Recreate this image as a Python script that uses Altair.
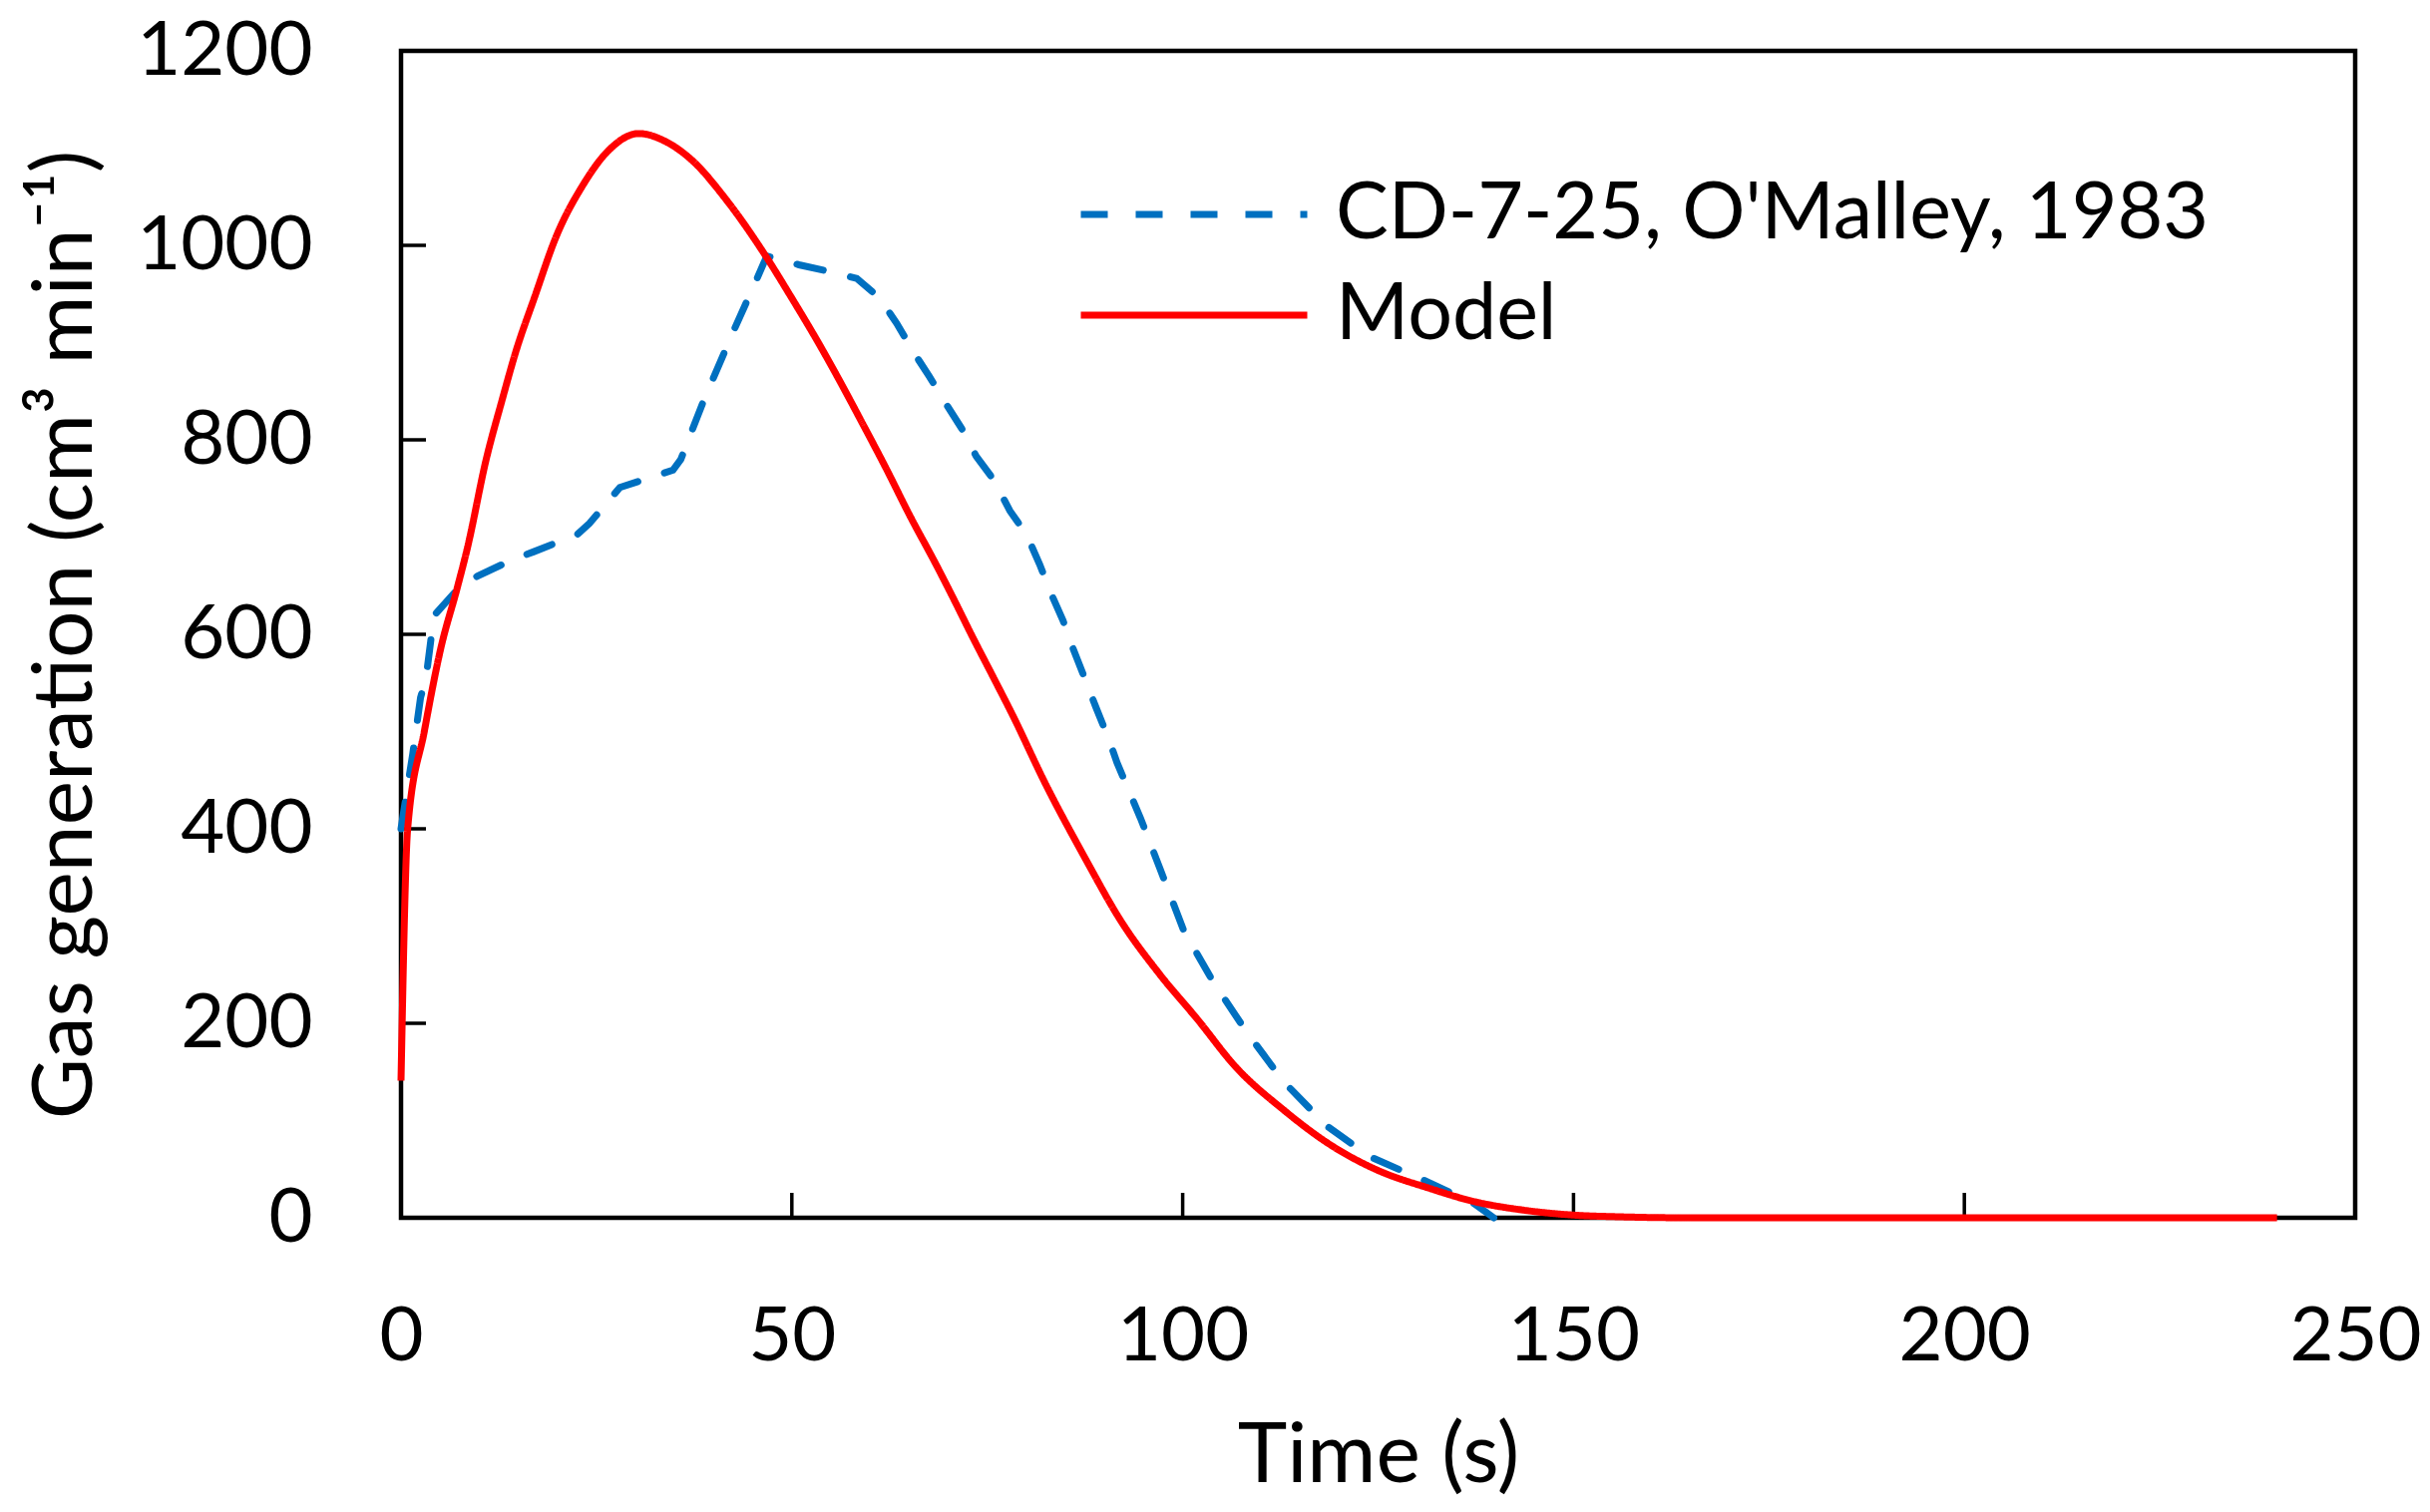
import altair as alt
import pandas as pd

series_names = ["CD-7-25, O'Malley, 1983", "Model"]
series_colors = ["#0070C0", "#FF0000"]

# Experimental data (CD-7-25, O'Malley, 1983)
exp_time = [0, 1.5, 2.5, 3.2, 3.8, 4.2, 7.2, 9.8, 13.8, 17.0, 22.6, 24.1, 28.0, 34.8,
            35.8, 38.7, 42.6, 45.5, 46.8, 50.9, 54.9, 58.3, 61.2, 63.4, 65.5, 67.6,
            69.8, 71.7, 73.6, 75.9, 77.9, 80.0, 81.7, 83.0, 84.7, 85.9, 87.6, 88.9,
            90.6, 91.6, 94.6, 97.1, 100.1, 103.8, 108.1, 112.9, 118.5, 123.9, 131.3,
            137.4, 139.8]
exp_gas = [400, 477, 535, 555, 593, 619, 646, 660, 675, 685, 703, 714, 751, 769,
           780, 840, 913, 965, 989, 980, 973, 966, 946, 920, 891, 865,
           836, 812, 783, 758, 727, 703, 672, 645, 614, 587, 552, 525,
           491, 468, 411, 359, 296, 244, 192, 140, 94, 63, 37,
           14, 0]

# Model
model_time = [0, 0.85, 3.0, 5.1, 7.2, 8.5, 10.9, 12.9, 14.7, 17.1, 19.9, 23.2, 26.6,
              30.4, 33.8, 37.3, 41.6, 46.5, 49.9, 53.6, 56.1, 58.7, 62.1, 65.1, 68.5,
              70.6, 73.2, 75.7, 78.3, 82.4, 87.3, 92.2, 97.1, 101.9, 106.8, 112.9,
              119.1, 125.2, 131.3, 137.4, 143.5, 149.6, 156, 165, 240]
model_gas = [141, 400, 501, 586, 648, 689, 780, 840, 891, 947, 1010, 1061, 1098,
             1115, 1107, 1087, 1047, 991, 947, 897, 861, 822, 770, 722, 671,
             638, 596, 557, 516, 447, 373, 304, 250, 204, 155, 111,
             74, 48, 31, 16.5, 8, 3, 1, 0, 0]

x_ticks = [0, 50, 100, 150, 200, 250]
y_ticks = [0, 200, 400, 600, 800, 1000, 1200]

W, H = 1959, 1170
FONT = "Lato"
FS = 76

exp_df = pd.DataFrame({"t": exp_time, "g": exp_gas, "series": series_names[0]})
model_df = pd.DataFrame({"t": model_time, "g": model_gas, "series": series_names[1]})
xt_df = pd.DataFrame({"t": x_ticks})
yt_df = pd.DataFrame({"g": y_ticks})

x_scale = alt.Scale(domain=[0, 250], nice=False, zero=False)
y_scale = alt.Scale(domain=[0, 1200], nice=False)

x_axis = alt.Axis(values=x_ticks, format="d", domain=False, ticks=False, tickSize=0,
                  grid=False, labelFont=FONT, labelFontSize=FS, labelColor="black",
                  labelPadding=82, labelFlush=False, labelOverlap=False, labelLimit=1000,
                  titleFont=FONT, titleFontSize=84, titleFontWeight="normal",
                  titleColor="black", titleY=264, titleBaseline="alphabetic")
y_axis = alt.Axis(values=y_ticks, format="d", domain=False, ticks=False, tickSize=0,
                  grid=False, labelFont=FONT, labelFontSize=FS, labelColor="black",
                  labelPadding=89, labelFlush=False, labelOverlap=False, labelLimit=1000,
                  titleFont=FONT, titleFontSize=84, titleFontWeight="normal",
                  titleColor="black", titleAngle=270, titleX=-311, titleY=H / 2,
                  titleBaseline="alphabetic", titleAlign="center", titleLimit=3000)

X_TITLE = "Time (s)"
Y_TITLE = "Gas generation (cm\u00b3 min\u207b\u00b9)"


def make_legend(y):
    return alt.Legend(title=None, orient="none", legendX=678, legendY=y,
                      symbolType="stroke", symbolSize=51529, symbolStrokeWidth=7,
                      labelFont=FONT, labelFontSize=79, labelColor="black",
                      labelOffset=25, labelLimit=3000, padding=0)


def enc_x(field="t:Q"):
    return alt.X(field, scale=x_scale, axis=x_axis, title=X_TITLE)


def enc_y(field="g:Q"):
    return alt.Y(field, scale=y_scale, axis=y_axis, title=Y_TITLE)


exp_leg = make_legend(47)
exp_line = alt.Chart(exp_df).mark_line(strokeWidth=7, strokeCap="round").encode(
    x=enc_x(), y=enc_y(),
    color=alt.Color("series:N", legend=exp_leg,
                    scale=alt.Scale(domain=[series_names[0]], range=[series_colors[0]])),
    strokeDash=alt.StrokeDash("series:N", legend=exp_leg,
                              scale=alt.Scale(domain=[series_names[0]], range=[[27, 28]])),
)
model_leg = make_legend(148)
model_line = alt.Chart(model_df).mark_line(strokeWidth=7, interpolate="monotone").encode(
    x=enc_x(), y=enc_y(),
    color=alt.Color("series:N", legend=model_leg,
                    scale=alt.Scale(domain=[series_names[1]], range=[series_colors[1]])),
    strokeDash=alt.StrokeDash("series:N", legend=model_leg,
                              scale=alt.Scale(domain=[series_names[1]], range=[[1, 0]])),
)

x_tick_marks = alt.Chart(xt_df).mark_rule(color="black", strokeWidth=3.5).encode(
    x=enc_x(), y=alt.value(H), y2=alt.value(H - 25)
)
y_tick_marks = alt.Chart(yt_df).mark_rule(color="black", strokeWidth=3.5).encode(
    y=enc_y(), x=alt.value(0), x2=alt.value(25)
)

chart = alt.layer(x_tick_marks, y_tick_marks, exp_line, model_line).resolve_scale(
    color="independent", strokeDash="independent"
).properties(
    width=W, height=H,
    autosize=alt.AutoSizeParams(type="none"),
    padding={"left": 394, "top": 43, "right": 66, "bottom": 282},
    background="white",
).configure_view(stroke="black", strokeWidth=4.5)

chart.save("out.html", embed_options={"renderer": "svg", "actions": False})
